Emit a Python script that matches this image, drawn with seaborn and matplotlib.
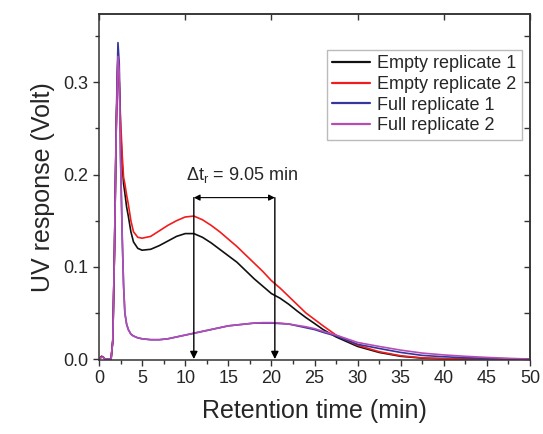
import matplotlib
matplotlib.use('Agg')
import matplotlib.pyplot as plt
import seaborn as sns
import pandas as pd
from matplotlib.ticker import MultipleLocator

# Retention time grid (min)
time_min = [0, 0.3, 0.5, 0.7, 1.4, 1.6, 1.8, 2.0, 2.2, 2.35, 2.5, 2.7, 2.85, 3.0,
            3.2, 3.4, 3.7, 4.0, 4.5, 5, 6, 7, 8, 9, 10, 11, 12, 13, 14, 15, 16,
            17, 18, 19, 20, 21, 22, 23, 24, 25, 26, 27.5, 30, 32.5, 35, 37.5,
            40, 42.5, 45, 47.5, 50]

# UV response (Volt)
empty_rep1 = [0, 0.003, 0.002, 0, 0, 0.02, 0.12, 0.25, 0.33, 0.30, 0.25, 0.21, 0.19, 0.18,
              0.165, 0.155, 0.138, 0.127, 0.120, 0.118, 0.119, 0.123, 0.128, 0.133, 0.136,
              0.136, 0.132, 0.126, 0.119, 0.112, 0.105, 0.096, 0.087, 0.079, 0.071,
              0.066, 0.0595, 0.052, 0.045, 0.0386, 0.032, 0.024, 0.0137, 0.0072, 0.003,
              0.001, 0.0003, 0, 0, 0, 0]
empty_rep2 = [0, 0.003, 0.002, 0, 0, 0.02, 0.12, 0.25, 0.33, 0.30, 0.26, 0.22, 0.197, 0.19,
              0.178, 0.168, 0.150, 0.138, 0.132, 0.131, 0.133, 0.139, 0.145, 0.150, 0.154,
              0.155, 0.151, 0.145, 0.138, 0.130, 0.122, 0.113, 0.104, 0.095, 0.085,
              0.077, 0.068, 0.059, 0.050, 0.043, 0.036, 0.026, 0.015, 0.008, 0.0036,
              0.0013, 0.0004, 0, 0, 0, 0]
full_rep1 = [0, 0.002, 0.002, 0, 0, 0.02, 0.12, 0.26, 0.343, 0.32, 0.22, 0.13, 0.08, 0.05,
             0.038, 0.032, 0.027, 0.025, 0.023, 0.022, 0.021, 0.021, 0.022, 0.024, 0.026,
             0.028, 0.030, 0.032, 0.034, 0.036, 0.037, 0.038, 0.039, 0.039, 0.039,
             0.0385, 0.038, 0.036, 0.034, 0.032, 0.029, 0.025, 0.016, 0.0115, 0.0072,
             0.004, 0.0025, 0.0015, 0.0008, 0.0003, 0]
full_rep2 = [0, 0.002, 0.002, 0, 0, 0.02, 0.12, 0.25, 0.328, 0.31, 0.215, 0.13, 0.08, 0.05,
             0.038, 0.032, 0.027, 0.025, 0.023, 0.022, 0.021, 0.021, 0.022, 0.024, 0.026,
             0.028, 0.030, 0.032, 0.034, 0.036, 0.037, 0.038, 0.039, 0.0395, 0.0395,
             0.039, 0.038, 0.0365, 0.035, 0.033, 0.030, 0.026, 0.018, 0.0137, 0.0097,
             0.0065, 0.0045, 0.003, 0.0018, 0.0008, 0]

series_names = ['Empty replicate 1', 'Empty replicate 2', 'Full replicate 1', 'Full replicate 2']
series_colors = ['#111111', '#f21c1c', '#35359c', '#b64db6']

# Retention-time shift marker
peak_empty = 11.0
peak_full = 20.4
shift_label = r'$\mathregular{\Delta t_r}$ = 9.05 min'

df = pd.concat([
    pd.DataFrame({'time': time_min, 'uv': vals, 'sample': name})
    for name, vals in zip(series_names, [empty_rep1, empty_rep2, full_rep1, full_rep2])
])

sns.set_style('ticks')
plt.rcParams['font.family'] = ['Liberation Sans', 'DejaVu Sans']
plt.rcParams['mathtext.fontset'] = 'custom'
plt.rcParams['mathtext.rm'] = 'Liberation Sans'

fig = plt.figure(figsize=(5.43, 4.34), dpi=100)
ax = fig.add_axes([99 / 543, 1 - 360 / 434, 431 / 543, 346 / 434])

sns.lineplot(data=df, x='time', y='uv', hue='sample', palette=series_colors,
             estimator=None, sort=False, linewidth=1.2, ax=ax)

ax.set_xlim(0, 50)
ax.set_ylim(-0.001, 0.374)
ax.xaxis.set_major_locator(MultipleLocator(5))
ax.xaxis.set_minor_locator(MultipleLocator(2.5))
ax.yaxis.set_major_locator(MultipleLocator(0.1))
ax.yaxis.set_minor_locator(MultipleLocator(0.05))
ax.tick_params(which='both', direction='out', width=1.0, color='#333333',
               labelsize=13, pad=3)
ax.tick_params(which='major', length=4.5)
ax.tick_params(which='minor', length=3)

# mirrored axes with inward ticks, no labels
for sec in [ax.secondary_xaxis('top'), ax.secondary_yaxis('right')]:
    sec.tick_params(which='both', direction='in', width=1.0, color='#333333',
                    labeltop=False, labelright=False)
    sec.tick_params(which='major', length=4.5)
    sec.tick_params(which='minor', length=3)
    for s in sec.spines.values():
        s.set_linewidth(1.1)
        s.set_color('#333333')

for s in ax.spines.values():
    s.set_visible(True)
    s.set_linewidth(1.1)
    s.set_color('#333333')

ax.set_xlabel('Retention time (min)', fontsize=18, labelpad=8)
ax.set_ylabel('UV response (Volt)', fontsize=18, labelpad=6)

# arrows marking peak positions
arrow_y = 0.175
for xpos in [peak_empty, peak_full]:
    ax.annotate('', xy=(xpos, 0.0), xytext=(xpos, arrow_y),
                arrowprops=dict(arrowstyle='-|>', color='black', lw=1.0,
                                mutation_scale=11, shrinkA=0, shrinkB=0))
ax.annotate('', xy=(peak_empty, arrow_y), xytext=(peak_full, arrow_y),
            arrowprops=dict(arrowstyle='<|-|>', color='black', lw=0.8,
                            mutation_scale=9, shrinkA=0, shrinkB=0))
ax.text((peak_empty + peak_full) / 2 + 0.9, 0.199, shift_label, fontsize=13,
        ha='center', va='center')

leg = ax.legend(title=None, loc='upper right', bbox_to_anchor=(0.981, 0.896),
                fontsize=13, frameon=True, fancybox=False, borderaxespad=0,
                handlelength=2.1, handletextpad=0.4, labelspacing=0.2,
                borderpad=0.3)
leg.get_frame().set_edgecolor('#aaaaaa')
leg.get_frame().set_linewidth(1.0)
for line in leg.get_lines():
    line.set_linewidth(1.6)

fig.savefig('out.png', dpi=100)
